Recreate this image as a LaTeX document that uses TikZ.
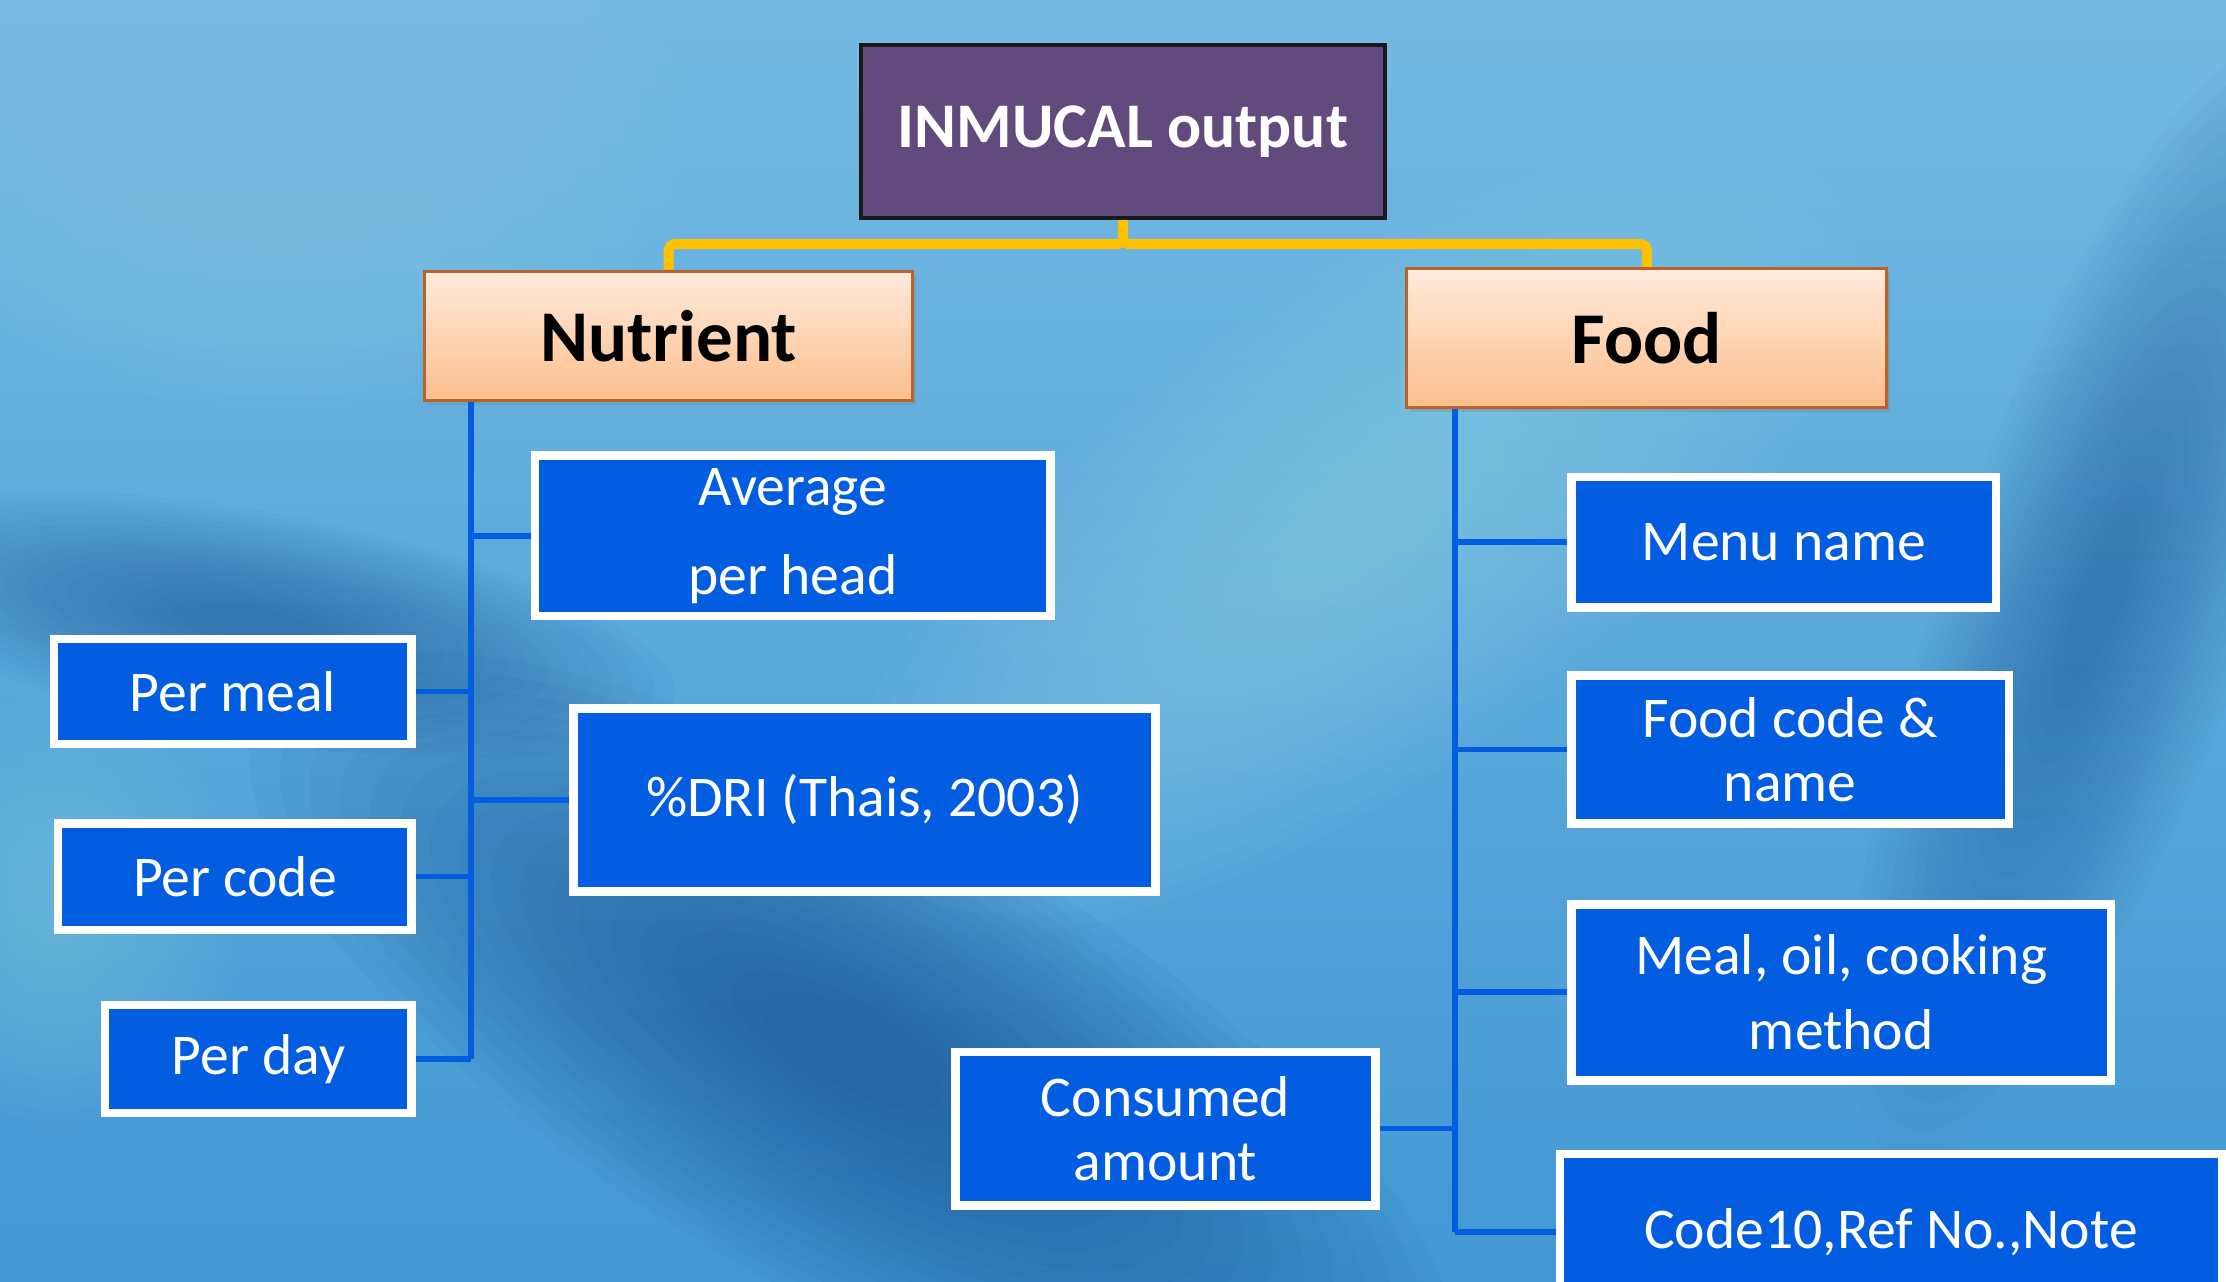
\documentclass[tikz,border=0pt]{standalone}
\usepackage{fontspec}
\setmainfont{Carlito}
\usetikzlibrary{shadows}
\definecolor{bgtop}{HTML}{74BAE3}
\definecolor{bgbot}{HTML}{4298D3}
\definecolor{bgdark}{HTML}{174F90}
\definecolor{bglight}{HTML}{8FD0F0}
\definecolor{boxblue}{HTML}{025DE0}
\definecolor{topviolet}{HTML}{614B7C}
\definecolor{peachtop}{HTML}{FFEBDD}
\definecolor{peachbot}{HTML}{FCBE8C}
\definecolor{peachline}{HTML}{B9632B}
\definecolor{linkyellow}{HTML}{FFC000}
\begin{document}
\begin{tikzpicture}[x=0.5pt,y=-0.5pt,
	leaf/.style={draw=white,line width=3pt,fill=boxblue,text=white,inner sep=0pt,align=center,
		font=\fontsize{20.3}{22.5}\selectfont,
		drop shadow={shadow xshift=1pt,shadow yshift=-1.5pt,opacity=0.3}},
	head/.style={draw=peachline,line width=1pt,top color=peachtop,bottom color=peachbot,
		inner sep=0pt,font=\bfseries\fontsize{25.7}{30}\selectfont,
		drop shadow={shadow xshift=1pt,shadow yshift=-1.5pt,opacity=0.3}},
	link/.style={draw=linkyellow,line width=3.5pt,rounded corners=2pt},
	spine/.style={draw=boxblue,line width=2pt}]
	% background
	\useasboundingbox (0,0) rectangle (1568,903);
	\shade[top color=bgtop,bottom color=bgbot] (0,0) rectangle (1568,903);
	\foreach \s in {1,0.95,...,0.1} {
		\fill[bglight,opacity=0.045] (200,90) ellipse [x radius=280*\s,y radius=200*\s];
		\fill[bglight,opacity=0.05,rotate around={35:(950,380)}] (950,380) ellipse [x radius=420*\s,y radius=170*\s];
		\fill[bgdark,opacity=0.05,rotate around={-30:(600,740)}] (600,740) ellipse [x radius=480*\s,y radius=170*\s];
		\fill[bgdark,opacity=0.035,rotate around={-10:(180,440)}] (180,440) ellipse [x radius=300*\s,y radius=80*\s];
		\fill[bgdark,opacity=0.03,rotate around={70:(1480,420)}] (1480,420) ellipse [x radius=420*\s,y radius=110*\s];
		\fill[bglight,opacity=0.03] (40,640) ellipse [x radius=130*\s,y radius=150*\s];
	}

	% nodes
	\node[draw=black!90,line width=1.5pt,fill=topviolet,text=white,inner sep=0pt,
		minimum width=184.5pt,minimum height=61pt,font=\bfseries\fontsize{22.4}{26}\selectfont] (out) at (791,92.5) {INMUCAL output};
	\node[head,minimum width=172pt,minimum height=45.5pt] (nut) at (471,236.5) {Nutrient};
	\node[head,minimum width=169pt,minimum height=49pt] (food) at (1160,238) {Food};

	\node[leaf,minimum width=181.5pt,minimum height=56.5pt,font=\fontsize{20.3}{31.5}\selectfont] (avg) at (558.5,377.5) {Average\\per head};
	\node[leaf,minimum width=126pt,minimum height=37pt] (meal) at (164,487) {Per meal};
	\node[leaf,minimum width=205pt,minimum height=64.5pt] (dri) at (609,563.5) {\raisebox{3.5pt}{\%DRI (Thais, 2003)}};
	\node[leaf,minimum width=124.5pt,minimum height=37.5pt] (code) at (165.5,617.5) {Per code};
	\node[leaf,minimum width=108pt,minimum height=38pt] (day) at (182,746) {Per day};

	\node[leaf,minimum width=149.5pt,minimum height=46pt] (menu) at (1256.5,382) {Menu name};
	\node[leaf,minimum width=154pt,minimum height=52pt] (fcode) at (1261,528) {Food code \&\\name};
	\node[leaf,minimum width=190pt,minimum height=62pt,font=\fontsize{20.3}{26.5}\selectfont] (oil) at (1297,699) {Meal, oil, cooking\\method};
	\node[leaf,minimum width=148pt,minimum height=54pt] (amt) at (821,795) {Consumed\\amount};
	\node[leaf,minimum width=233pt,minimum height=55pt] (ref) at (1332,868) {Code10,Ref No.,Note};

	% links
	\draw[link] (out.south) -- ++(0,17) -| (nut.north);
	\draw[link] (out.south) -- ++(0,17) -| (food.north);

	\coordinate (ns) at ([xshift=17pt]nut.south west);
	\coordinate (fs) at ([xshift=17.5pt]food.south west);
	\draw[spine] (ns) -- (ns |- day.east);
	\foreach \n in {avg,dri} \draw[spine] (\n.west) -- (\n.west -| ns);
	\foreach \n in {meal,code,day} \draw[spine] (\n.east) -- (\n.east -| ns);
	\draw[spine] (fs) -- (fs |- ref.west);
	\foreach \n in {menu,fcode,oil,ref} \draw[spine] (\n.west) -- (\n.west -| fs);
	\draw[spine] (amt.east) -- (amt.east -| fs);
\end{tikzpicture}
\end{document}
